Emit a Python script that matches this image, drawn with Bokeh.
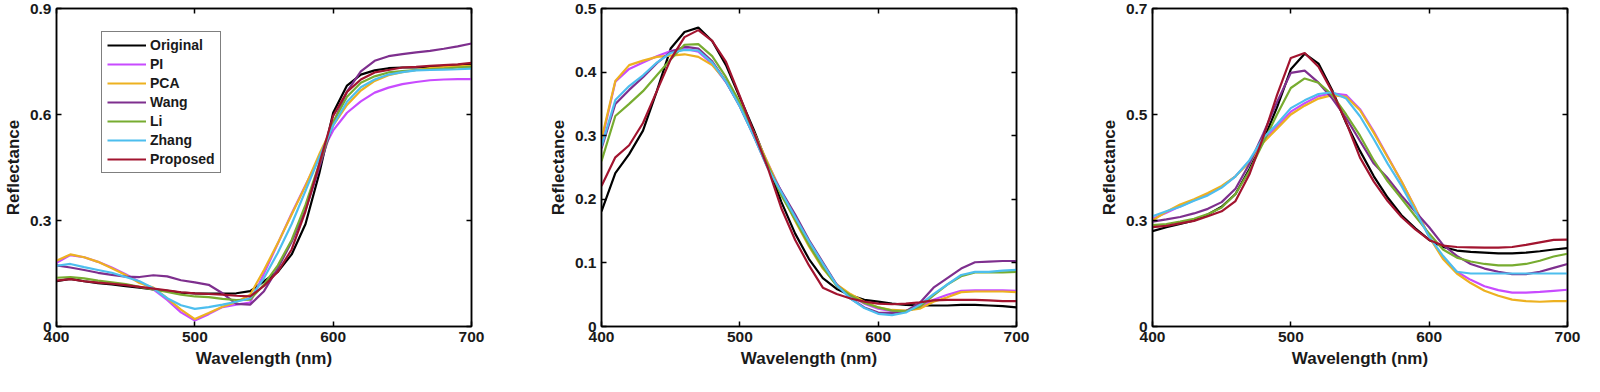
from bokeh.plotting import figure
from bokeh.layouts import row
from bokeh.models import Range1d, FixedTicker, LinearAxis, Legend, LegendItem
from bokeh.embed import file_html
from bokeh.resources import INLINE

# ---------------- data ----------------
wavelength = [400, 410, 420, 430, 440, 450, 460, 470, 480, 490, 500,
              510, 520, 530, 540, 550, 560, 570, 580, 590, 600,
              610, 620, 630, 640, 650, 660, 670, 680, 690, 700]

series_names = ["Original", "PI", "PCA", "Wang", "Li", "Zhang", "Proposed"]
series_colors = ["#000000", "#C84BFF", "#EDB120", "#7E2F8E", "#77AC30", "#4DBEEE", "#A2142F"]

# Panel 1
original_1 = [0.128, 0.135, 0.128, 0.123, 0.119, 0.114, 0.110, 0.105, 0.101, 0.096, 0.094,
              0.093, 0.093, 0.094, 0.100, 0.128, 0.155, 0.204, 0.290, 0.434, 0.605,
              0.682, 0.713, 0.725, 0.731, 0.733, 0.733, 0.735, 0.737, 0.740, 0.742]
pi_1 = [0.180, 0.202, 0.196, 0.183, 0.167, 0.148, 0.127, 0.105, 0.075, 0.040, 0.017,
        0.035, 0.055, 0.062, 0.068, 0.150, 0.235, 0.320, 0.400, 0.480, 0.555,
        0.605, 0.637, 0.662, 0.676, 0.686, 0.692, 0.697, 0.699, 0.700, 0.700]
pca_1 = [0.186, 0.204, 0.196, 0.183, 0.165, 0.146, 0.123, 0.110, 0.080, 0.048, 0.021,
         0.038, 0.056, 0.069, 0.090, 0.160, 0.236, 0.317, 0.398, 0.488, 0.569,
         0.627, 0.668, 0.695, 0.711, 0.720, 0.726, 0.731, 0.734, 0.736, 0.738]
wang_1 = [0.173, 0.167, 0.160, 0.152, 0.146, 0.141, 0.140, 0.145, 0.142, 0.131, 0.125,
          0.118, 0.094, 0.064, 0.062, 0.100, 0.165, 0.240, 0.330, 0.450, 0.575,
          0.665, 0.722, 0.752, 0.765, 0.771, 0.776, 0.780, 0.786, 0.793, 0.801]
li_1 = [0.138, 0.140, 0.136, 0.130, 0.125, 0.120, 0.112, 0.105, 0.098, 0.090, 0.085,
        0.083, 0.078, 0.075, 0.076, 0.119, 0.173, 0.245, 0.344, 0.461, 0.578,
        0.650, 0.690, 0.708, 0.719, 0.723, 0.726, 0.728, 0.730, 0.733, 0.735]
zhang_1 = [0.172, 0.177, 0.168, 0.160, 0.152, 0.140, 0.128, 0.108, 0.080, 0.060, 0.050,
           0.055, 0.062, 0.070, 0.080, 0.137, 0.209, 0.290, 0.384, 0.479, 0.569,
           0.636, 0.677, 0.699, 0.713, 0.720, 0.725, 0.726, 0.727, 0.728, 0.730]
proposed_1 = [0.130, 0.134, 0.128, 0.124, 0.121, 0.117, 0.112, 0.107, 0.102, 0.097, 0.094,
              0.092, 0.090, 0.087, 0.085, 0.115, 0.155, 0.218, 0.326, 0.461, 0.596,
              0.664, 0.699, 0.719, 0.726, 0.733, 0.735, 0.738, 0.740, 0.742, 0.746]

# Panel 2
original_2 = [0.181, 0.241, 0.271, 0.308, 0.370, 0.437, 0.463, 0.470, 0.449, 0.411, 0.360,
              0.310, 0.255, 0.196, 0.146, 0.106, 0.076, 0.059, 0.049, 0.042, 0.039,
              0.036, 0.034, 0.033, 0.033, 0.033, 0.034, 0.034, 0.033, 0.032, 0.030]
pi_2 = [0.290, 0.385, 0.405, 0.415, 0.425, 0.433, 0.437, 0.432, 0.413, 0.384, 0.348,
        0.305, 0.258, 0.212, 0.170, 0.130, 0.095, 0.066, 0.048, 0.036, 0.028,
        0.024, 0.025, 0.030, 0.042, 0.050, 0.056, 0.057, 0.057, 0.057, 0.056]
pca_2 = [0.295, 0.386, 0.411, 0.418, 0.424, 0.426, 0.428, 0.424, 0.411, 0.386, 0.350,
         0.306, 0.258, 0.210, 0.166, 0.126, 0.091, 0.066, 0.051, 0.039, 0.030,
         0.026, 0.025, 0.028, 0.039, 0.046, 0.054, 0.055, 0.055, 0.055, 0.054]
wang_2 = [0.280, 0.350, 0.372, 0.392, 0.414, 0.432, 0.440, 0.437, 0.417, 0.385, 0.346,
          0.300, 0.250, 0.213, 0.176, 0.136, 0.101, 0.066, 0.044, 0.030, 0.022,
          0.021, 0.024, 0.037, 0.061, 0.076, 0.091, 0.101, 0.102, 0.103, 0.103]
li_2 = [0.260, 0.331, 0.350, 0.370, 0.395, 0.420, 0.443, 0.444, 0.425, 0.392, 0.352,
        0.305, 0.255, 0.206, 0.168, 0.128, 0.093, 0.064, 0.049, 0.037, 0.030,
        0.025, 0.024, 0.031, 0.049, 0.066, 0.079, 0.085, 0.085, 0.085, 0.086]
zhang_2 = [0.283, 0.356, 0.378, 0.395, 0.415, 0.430, 0.435, 0.434, 0.415, 0.385, 0.346,
           0.300, 0.250, 0.211, 0.172, 0.134, 0.099, 0.065, 0.044, 0.029, 0.020,
           0.018, 0.022, 0.034, 0.051, 0.066, 0.081, 0.086, 0.086, 0.088, 0.089]
proposed_2 = [0.221, 0.266, 0.285, 0.320, 0.370, 0.420, 0.455, 0.466, 0.449, 0.416, 0.362,
              0.306, 0.251, 0.186, 0.136, 0.096, 0.061, 0.051, 0.044, 0.039, 0.036,
              0.035, 0.036, 0.038, 0.041, 0.042, 0.042, 0.042, 0.041, 0.040, 0.040]

# Panel 3
original_3 = [0.270, 0.281, 0.290, 0.300, 0.317, 0.339, 0.375, 0.445, 0.525, 0.620, 0.728,
              0.772, 0.744, 0.668, 0.576, 0.497, 0.425, 0.365, 0.315, 0.278, 0.245,
              0.225, 0.215, 0.211, 0.209, 0.207, 0.207, 0.209, 0.213, 0.218, 0.222]
pi_3 = [0.305, 0.322, 0.340, 0.357, 0.374, 0.395, 0.425, 0.468, 0.527, 0.566, 0.608,
        0.632, 0.652, 0.660, 0.655, 0.615, 0.552, 0.481, 0.410, 0.335, 0.254,
        0.195, 0.155, 0.132, 0.114, 0.103, 0.096, 0.096, 0.098, 0.101, 0.104]
pca_3 = [0.300, 0.325, 0.345, 0.360, 0.378, 0.398, 0.425, 0.465, 0.520, 0.560, 0.600,
         0.625, 0.645, 0.655, 0.650, 0.612, 0.548, 0.479, 0.411, 0.335, 0.254,
         0.191, 0.150, 0.123, 0.101, 0.087, 0.076, 0.072, 0.070, 0.072, 0.072]
wang_3 = [0.297, 0.303, 0.310, 0.320, 0.333, 0.352, 0.390, 0.460, 0.545, 0.635, 0.718,
          0.724, 0.690, 0.645, 0.590, 0.525, 0.461, 0.420, 0.370, 0.325, 0.281,
          0.231, 0.200, 0.177, 0.164, 0.155, 0.148, 0.148, 0.155, 0.166, 0.177]
li_3 = [0.287, 0.290, 0.297, 0.305, 0.318, 0.337, 0.375, 0.440, 0.520, 0.600, 0.675,
        0.702, 0.690, 0.655, 0.600, 0.540, 0.470, 0.411, 0.362, 0.312, 0.263,
        0.218, 0.195, 0.184, 0.177, 0.173, 0.173, 0.177, 0.186, 0.198, 0.206]
zhang_3 = [0.312, 0.326, 0.339, 0.356, 0.371, 0.393, 0.425, 0.470, 0.534, 0.573, 0.618,
           0.640, 0.658, 0.663, 0.645, 0.595, 0.530, 0.461, 0.398, 0.326, 0.254,
           0.200, 0.155, 0.150, 0.150, 0.150, 0.150, 0.150, 0.150, 0.150, 0.150]
proposed_3 = [0.281, 0.285, 0.292, 0.299, 0.312, 0.326, 0.355, 0.430, 0.535, 0.655, 0.760,
              0.774, 0.735, 0.664, 0.578, 0.478, 0.410, 0.355, 0.310, 0.275, 0.245,
              0.229, 0.225, 0.224, 0.223, 0.223, 0.225, 0.231, 0.238, 0.245, 0.246]

x_ticks = [400, 500, 600, 700]
y_ticks_1 = [0, 0.3, 0.6, 0.9]
y_labels_1 = ["0", "0.3", "0.6", "0.9"]
y_ticks_2 = [0, 0.1, 0.2, 0.3, 0.4, 0.5]
y_labels_2 = ["0", "0.1", "0.2", "0.3", "0.4", "0.5"]
y_ticks_3 = [0, 0.3, 0.6, 0.9]
y_labels_3 = ["0", "0.3", "0.5", "0.7"]

x_label = "Wavelength (nm)"
y_label = "Reflectance"

# ---------------- styling ----------------
FONT = "Liberation Sans"
TEXT_COLOR = "#1a1a1a"
FIG_H = 376
FRAME_W = 421


def style_axis(ax, show_labels=True):
    ax.axis_line_color = "black"
    ax.axis_line_width = 1.5
    ax.major_tick_line_color = "black"
    ax.major_tick_line_width = 1.5
    ax.major_tick_in = 5
    ax.major_tick_out = 0
    ax.minor_tick_line_color = None
    ax.major_label_text_font = FONT
    ax.major_label_text_font_style = "bold"
    if show_labels:
        ax.major_label_text_color = TEXT_COLOR
        ax.major_label_text_font_size = "15.5px"
        ax.major_label_standoff = 5
    else:
        ax.major_label_text_color = None
        ax.major_label_text_font_size = "1px"
        ax.major_label_standoff = 0
    ax.axis_label_text_font = FONT
    ax.axis_label_text_font_style = "bold"
    ax.axis_label_text_font_size = "17px"
    ax.axis_label_text_color = TEXT_COLOR
    ax.axis_label_standoff = 4


def make_panel(series, y_max, y_ticks, y_labels, left, right, with_legend=False):
    width = left + FRAME_W + right
    p = figure(width=width, height=FIG_H, output_backend="svg", toolbar_location=None,
               x_range=Range1d(400, 700), y_range=Range1d(0, y_max),
               min_border_left=left, min_border_right=right,
               min_border_top=8, min_border_bottom=50)
    p.xgrid.visible = False
    p.ygrid.visible = False
    p.outline_line_color = "black"
    p.outline_line_width = 1.5
    p.background_fill_color = "white"
    p.border_fill_color = "white"

    renderers = []
    for vals, color in zip(series, series_colors):
        r = p.line(wavelength, vals, line_color=color, line_width=2.2)
        renderers.append(r)

    xa = p.xaxis[0]
    ya = p.yaxis[0]
    xa.ticker = FixedTicker(ticks=x_ticks)
    ya.ticker = FixedTicker(ticks=y_ticks)
    ya.major_label_overrides = {t: l for t, l in zip(y_ticks, y_labels)}
    xa.axis_label = x_label
    ya.axis_label = y_label
    style_axis(xa)
    style_axis(ya)

    top = LinearAxis(ticker=FixedTicker(ticks=x_ticks))
    style_axis(top, show_labels=False)
    p.add_layout(top, "above")
    rt = LinearAxis(ticker=FixedTicker(ticks=y_ticks))
    style_axis(rt, show_labels=False)
    p.add_layout(rt, "right")

    if with_legend:
        items = [LegendItem(label=n, renderers=[r]) for n, r in zip(series_names, renderers)]
        frame_h = FIG_H - 8 - 50
        leg_h = 138
        legend = Legend(items=items, location=(45, frame_h - 27 - leg_h))
        legend.border_line_color = "black"
        legend.border_line_width = 1.5
        legend.background_fill_color = "white"
        legend.background_fill_alpha = 1.0
        legend.label_text_font = FONT
        legend.label_text_font_style = "bold"
        legend.label_text_font_size = "14px"
        legend.label_text_color = TEXT_COLOR
        legend.glyph_width = 39
        legend.glyph_height = 16
        legend.label_height = 16
        legend.label_standoff = 4
        legend.padding = 5
        legend.spacing = 3
        legend.margin = 0
        p.add_layout(legend)
    return p


p1 = make_panel([original_1, pi_1, pca_1, wang_1, li_1, zhang_1, proposed_1],
                0.9, y_ticks_1, y_labels_1, left=50, right=74, with_legend=True)
p2 = make_panel([original_2, pi_2, pca_2, wang_2, li_2, zhang_2, proposed_2],
                0.5, y_ticks_2, y_labels_2, left=50, right=80)
p3 = make_panel([original_3, pi_3, pca_3, wang_3, li_3, zhang_3, proposed_3],
                0.9, y_ticks_3, y_labels_3, left=50, right=14)

layout = row(p1, p2, p3)
open("out.html", "w").write(file_html(layout, INLINE))
